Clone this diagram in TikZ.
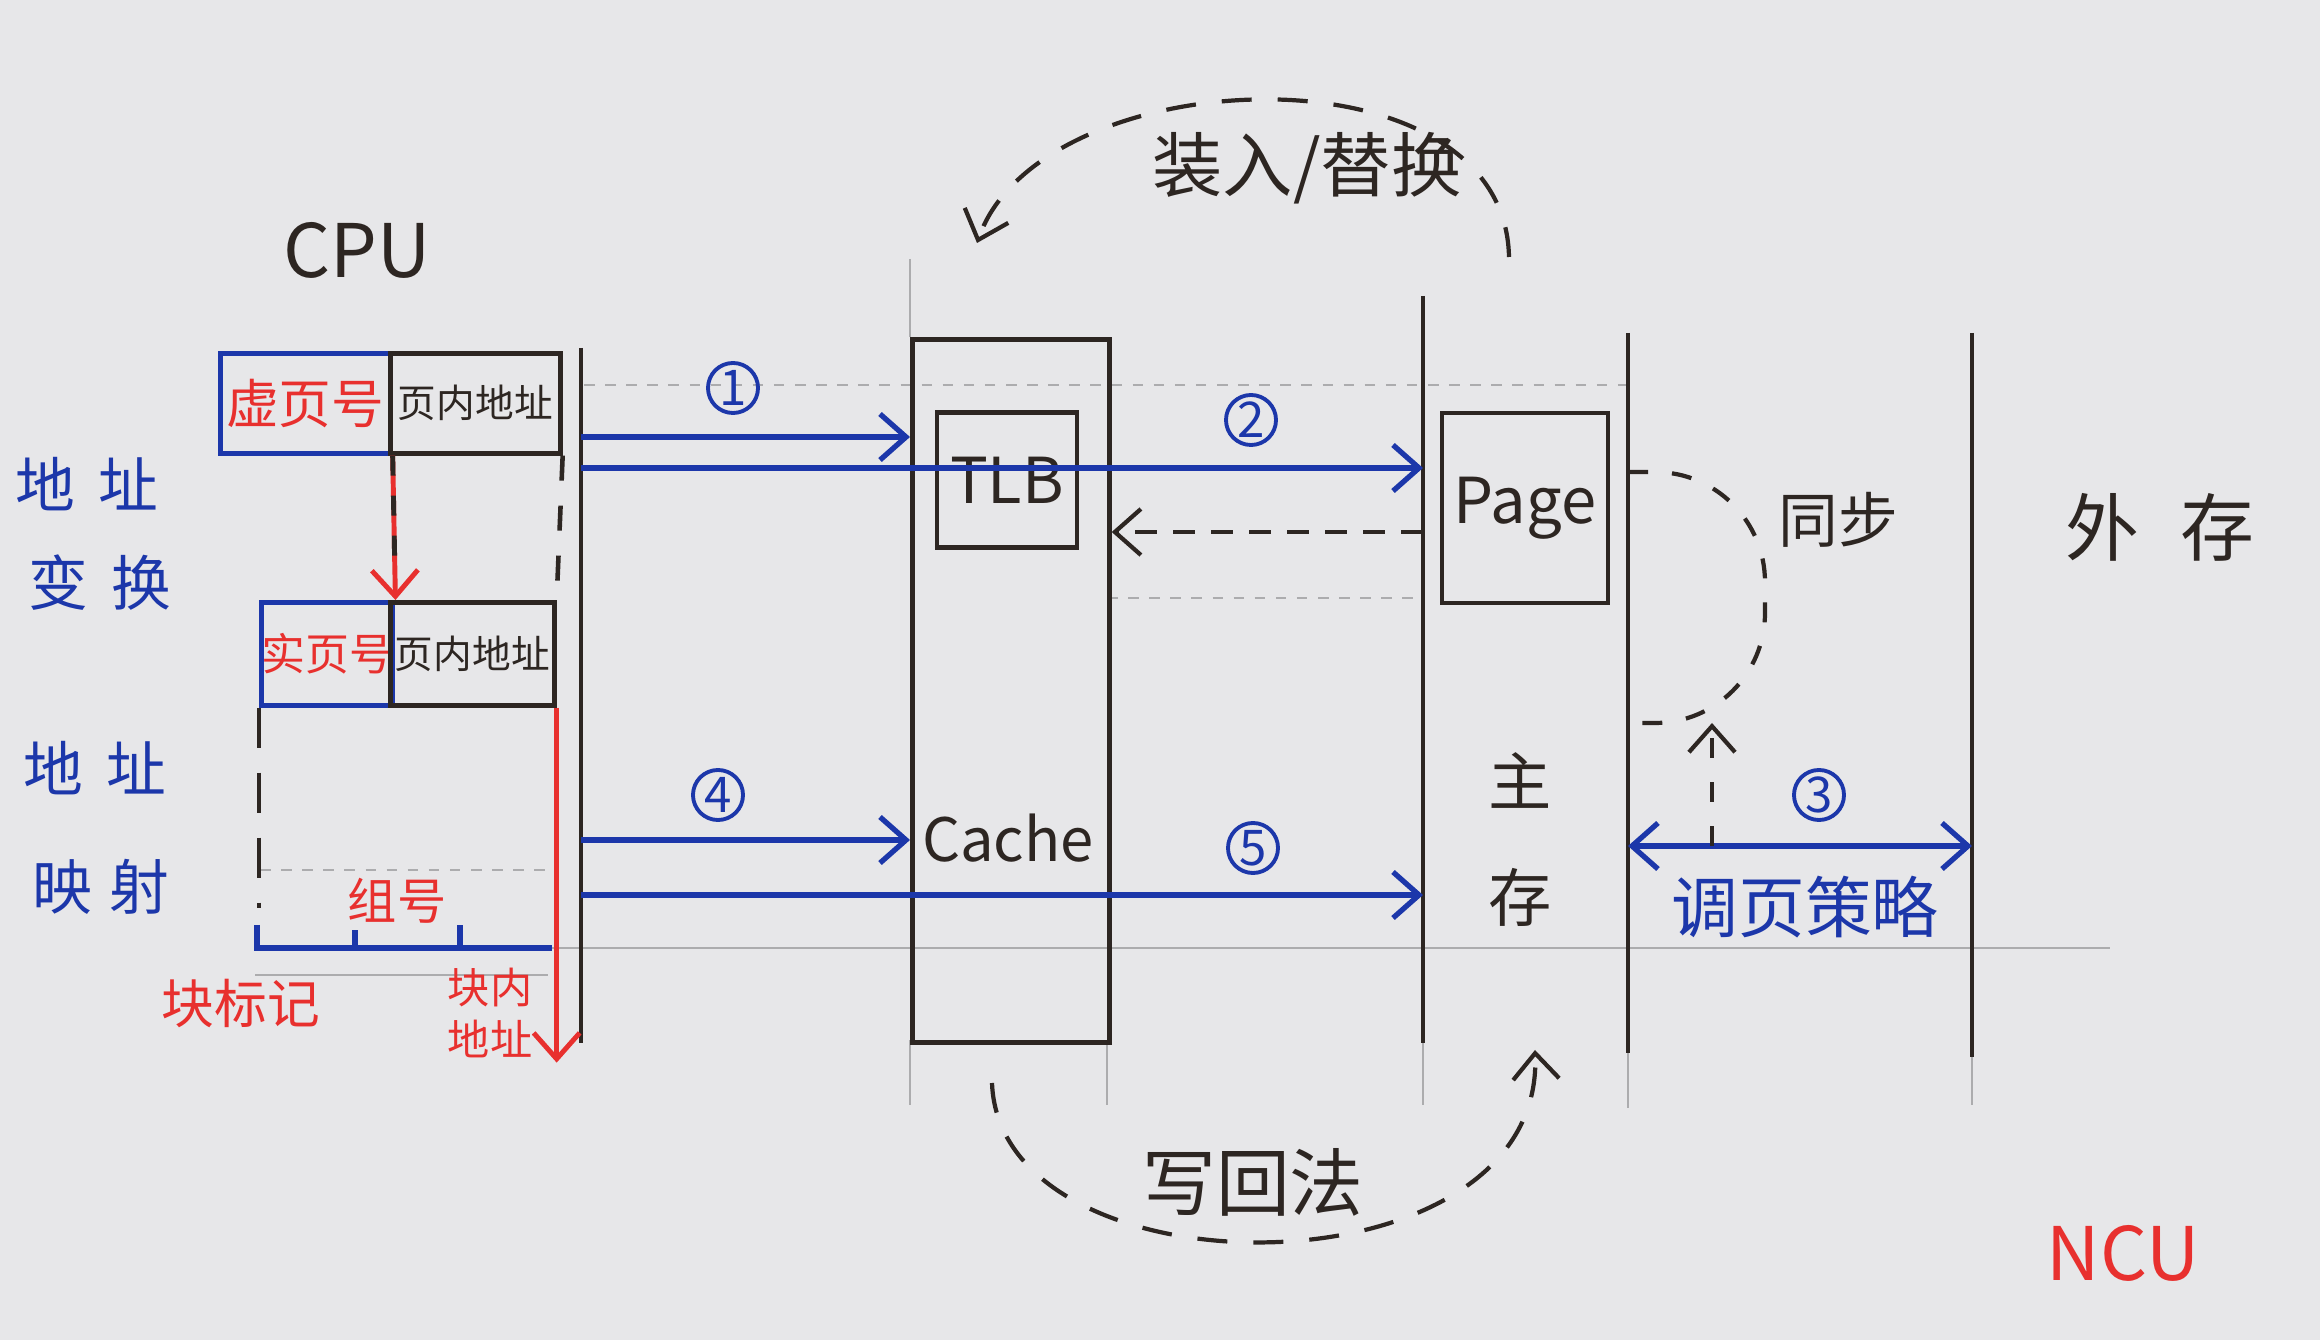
\documentclass[tikz,border=0pt]{standalone}
\usepackage{fontspec}
\setmainfont{Noto Sans CJK SC}
\usetikzlibrary{arrows.meta}

\definecolor{ink}{RGB}{45,38,34}
\definecolor{penblue}{RGB}{28,55,170}
\definecolor{penred}{RGB}{232,48,46}
\definecolor{paper}{RGB}{231,231,233}
\definecolor{pencil}{RGB}{172,172,174}

\begin{document}
\begin{tikzpicture}[x=0.01cm, y=-0.01cm,
    tip/.style={-{Straight Barb[length=2.6mm,width=4.6mm]}},
    both/.style={{Straight Barb[length=2.6mm,width=4.6mm]}-{Straight Barb[length=2.6mm,width=4.6mm]}},
    bus/.style={ink, line width=1.2pt},
    flow/.style={penblue, line width=1.5pt},
    loop/.style={ink, line width=1.2pt, dash pattern=on 3mm off 2.6mm},
    guide/.style={pencil, line width=0.5pt},
    field/.style={draw, line width=1.3pt, inner sep=0pt, anchor=north west},
    num/.style={circle, draw=penblue, text=penblue, line width=1.1pt, minimum size=0.5cm, inner sep=0pt, font=\fontsize{14}{14}\selectfont}]

    % Paper
    \fill[paper] (0,0) rectangle (2320,1340);
    \useasboundingbox (0,0) rectangle (2320,1340);

    % Pencil guides
    \draw[guide, dashed] (584,385) -- (1628,385);
    \draw[guide, dashed] (1107,598) -- (1423,598);
    \draw[guide] (548,948) -- (2110,948);
    \draw[guide, dashed] (260,870) -- (548,870);
    \draw[guide] (255,975) -- (548,975);
    \draw[guide] (910,259) -- (910,337);
    \draw[guide] (910,1040) -- (910,1105);
    \draw[guide] (1107,1040) -- (1107,1105);
    \draw[guide] (1423,1043) -- (1423,1105);
    \draw[guide] (1628,1053) -- (1628,1108);
    \draw[guide] (1972,1057) -- (1972,1105);

    % Draw nodes
    \node[text=ink, font=\fontsize{21}{21}\selectfont] (cpu) at (357,250) {CPU};
    \node[field, draw=penblue, text=penred, minimum width=1.7cm, minimum height=1cm, font=\fontsize{15}{15}\selectfont] (vpn) at (218,351) {虚页号};
    \node[field, draw=ink, text=ink, minimum width=1.7cm, minimum height=1cm, font=\fontsize{11}{11}\selectfont] (off1) at (388,351) {页内地址};
    \node[field, draw=penblue, text=penred, minimum width=1.29cm, minimum height=1.03cm, font=\fontsize{12.5}{12.5}\selectfont] (ppn) at (259,600) {实页号};
    \node[field, draw=ink, text=ink, minimum width=1.64cm, minimum height=1.03cm, font=\fontsize{11}{11}\selectfont] (off2) at (388,600) {页内地址};

    \node[draw=ink, line width=1.3pt, minimum width=1.97cm, minimum height=7.03cm, anchor=north west] (col) at (910,337) {};
    \node[draw=ink, line width=1.3pt, text=ink, minimum width=1.4cm, minimum height=1.35cm, font=\fontsize{18}{18}\selectfont] (tlb) at (1007,480) {TLB};
    \node[text=ink, font=\fontsize{17}{17}\selectfont] (cache) at (1008,838) {Cache};
    \node[draw=ink, line width=1.3pt, text=ink, minimum width=1.51cm, minimum height=1.9cm, font=\fontsize{18}{18}\selectfont] (page) at (1525,508) {Page};
    \node[text=ink, align=center, font=\fontsize{18}{33}\selectfont] (mm) at (1520,840) {主\\存};
    \node[text=ink, font=\fontsize{21}{21}\selectfont] (disk) at (2160,527) {外\hspace{0.55em}存};

    % Bus lines
    \coordinate (cpuT) at (581,348);
    \coordinate (cpuB) at (581,1043);
    \coordinate (mmT) at (1423,296);
    \coordinate (mmB) at (1423,1043);
    \coordinate (swT) at (1628,333);
    \coordinate (swB) at (1628,1053);
    \coordinate (dkT) at (1972,333);
    \coordinate (dkB) at (1972,1057);
    \draw[bus] (cpuT) -- (cpuB);
    \draw[bus] (mmT) -- (mmB);
    \draw[bus] (swT) -- (swB);
    \draw[bus] (dkT) -- (dkB);

    % Draw connections
    \coordinate (a1) at (581,437);
    \draw[flow, tip] (a1) -- (a1 -| col.west);
    \node[num] (n1) at (733,388) {1};
    \coordinate (a2) at (581,468);
    \draw[flow, tip] (a2) -- (a2 -| mmT);
    \node[num] (n2) at (1251,420) {2};
    \coordinate (b2) at (1423,532);
    \draw[ink, line width=1.2pt, dash pattern=on 2.2mm off 1.6mm, tip] (b2) -- (b2 -| col.east);

    \coordinate (a4) at (581,840);
    \draw[flow, tip] (a4) -- (a4 -| col.west);
    \node[num] (n4) at (718,795) {4};
    \coordinate (a5) at (581,895);
    \draw[flow, tip] (a5) -- (a5 -| mmT);
    \node[num] (n5) at (1253,848) {5};

    \coordinate (a3) at (1628,846);
    \draw[flow, both] (a3) -- (a3 -| dkT);
    \node[num] (n3) at (1819,795) {3};
    \node[text=penblue, font=\fontsize{19}{19}\selectfont] (policy) at (1805,907) {调页策略};

    % Sync loop
    \coordinate (syncA) at (1628,472);
    \coordinate (syncB) at (1628,723);
    \draw[loop, dash pattern=on 2mm off 2.4mm, rounded corners=1.1cm] (syncA) -- (1765,472) -- (1765,723) -- (syncB);
    \coordinate (up) at (1712,846);
    \draw[loop, dash pattern=on 2mm off 2.4mm, tip] (up) -- (up |- syncB);
    \node[text=ink, font=\fontsize{17}{17}\selectfont] (sync) at (1838,520) {同步};

    % Load / replace and write back
    \coordinate (ldA) at (1509,257);
    \coordinate (ldB) at (977,243);
    \draw[loop, tip] (ldA) .. controls (1505,40) and (1040,60) .. (ldB);
    \node[text=ink, font=\fontsize{20}{20}\selectfont] (load) at (1307,168) {装入/替换};
    \coordinate (wbA) at (992,1083);
    \coordinate (wbB) at (1535,1050);
    \draw[loop, tip] (wbA) .. controls (1000,1300) and (1545,1300) .. (wbB);
    \node[text=ink, font=\fontsize{21}{21}\selectfont] (wb) at (1253,1182) {写回法};

    % Address fields
    \draw[penred, line width=1.4pt, tip] (vpn.south east) -- (ppn.north east);
    \draw[ink, line width=1.4pt, dash pattern=on 2mm off 2mm, shorten >=3mm] (vpn.south east) -- (ppn.north east);
    \draw[ink, line width=1.3pt, dash pattern=on 2.5mm off 2.5mm] (off1.south east) -- (off2.north east);
    \draw[ink, line width=1.3pt, dash pattern=on 4mm off 2.5mm] (ppn.south west) -- ++(0,200);
    \coordinate (tagL) at (257,925);
    \coordinate (tagR) at (552,948);
    \draw[penblue, line width=1.5pt] (tagL) -- (tagL |- tagR) -- (tagR);
    \draw[penblue, line width=1.5pt] (355,948) -- (355,930);
    \draw[penblue, line width=1.5pt] (460,948) -- (460,925);
    \draw[penred, line width=1.4pt, tip] (off2.south east) -- ++(0,355);

    % Labels
    \node[text=penred, font=\fontsize{14}{14}\selectfont] (set) at (397,901) {组号};
    \node[text=penred, font=\fontsize{15}{15}\selectfont] (tag) at (241,1004) {块标记};
    \node[text=penred, align=center, font=\fontsize{12}{15}\selectfont] (word) at (490,1013) {块内\\地址};
    \node[text=penblue, font=\fontsize{17}{17}\selectfont] (xlat1) at (87,484) {地\hspace{0.4em}址};
    \node[text=penblue, font=\fontsize{17}{17}\selectfont] (xlat2) at (100,583) {变\hspace{0.4em}换};
    \node[text=penblue, font=\fontsize{17}{17}\selectfont] (map1) at (95,768) {地\hspace{0.4em}址};
    \node[text=penblue, font=\fontsize{17}{17}\selectfont] (map2) at (101,887) {映\hspace{0.3em}射};
    \node[text=penred, font=\fontsize{21}{21}\selectfont] (ncu) at (2123,1253) {NCU};
\end{tikzpicture}
\end{document}
